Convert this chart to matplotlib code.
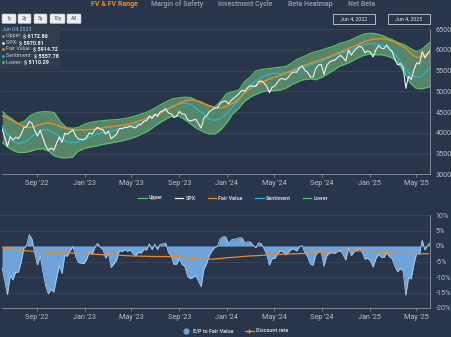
import matplotlib
matplotlib.use("Agg")
import matplotlib.pyplot as plt
import matplotlib.dates as mdates
from matplotlib.lines import Line2D
from matplotlib.patches import FancyBboxPatch, Rectangle
import numpy as np
import pandas as pd

# ---- data -------------------------------------------------------------
# weekly closes (Fridays) and the last session on Jun 4, 2025
week_dates = list(pd.date_range("2022-06-03", "2025-05-30", freq="W-FRI")) + [pd.Timestamp("2025-06-04")]

spx = [
    # 2022
    4108.54, 3900.86, 3674.84, 3911.74, 3825.33, 3899.38, 3863.16, 3961.63, 4130.29, 4145.19,
    4280.15, 4228.48, 4057.66, 3924.26, 4067.36, 3873.33, 3693.23, 3585.62, 3639.66, 3583.07,
    3752.75, 3901.06, 3770.55, 3992.93, 3965.34, 4026.12, 4071.70, 3934.38, 3852.36, 3844.82,
    3839.50,
    # 2023
    3895.08, 3999.09, 3972.61, 4070.56, 4136.48, 4090.46, 4079.09, 3970.04, 4045.64, 3861.59,
    3916.64, 3970.99, 4109.31, 4105.02, 4137.64, 4133.52, 4169.48, 4136.25, 4124.08, 4191.98,
    4205.45, 4282.37, 4298.86, 4409.59, 4348.33, 4450.38, 4398.95, 4505.42, 4536.34, 4582.23,
    4478.03, 4464.05, 4369.71, 4405.71, 4515.77, 4457.49, 4450.32, 4320.06, 4288.05, 4308.50,
    4327.78, 4224.16, 4117.37, 4358.34, 4415.24, 4514.02, 4559.34, 4594.63, 4604.37, 4719.19,
    4754.63, 4769.83,
    # 2024
    4697.24, 4783.83, 4839.81, 4890.97, 4958.61, 5026.61, 5005.57, 5088.80, 5137.08, 5123.69,
    5117.09, 5234.18, 5254.35, 5204.34, 5123.41, 4967.23, 5099.96, 5127.79, 5222.68, 5303.27,
    5304.72, 5277.51, 5346.99, 5431.60, 5464.62, 5460.48, 5567.19, 5615.35, 5505.00, 5459.10,
    5346.56, 5344.16, 5554.25, 5634.61, 5648.40, 5408.42, 5626.02, 5702.55, 5738.17, 5751.07,
    5815.03, 5864.67, 5808.12, 5728.80, 5995.54, 5870.62, 5969.34, 6032.38, 6090.27, 6051.09,
    5930.85, 5970.84,
    # 2025
    5942.47, 5827.04, 5996.66, 6101.24, 6040.53, 6025.99, 6114.63, 6013.13, 5954.50, 5770.20,
    5638.94, 5667.56, 5580.94, 5074.08, 5363.36, 5282.70, 5525.21, 5686.67, 5659.91, 5958.38,
    5802.82, 5911.69, 5970.81,
]

fair_value = [
    # 2022
    4415, 4390, 4360, 4325, 4295, 4260, 4220, 4185, 4160, 4140,
    4130, 4135, 4155, 4180, 4205, 4225, 4238, 4240, 4230, 4210,
    4190, 4165, 4140, 4120, 4100, 4088, 4078, 4072, 4070, 4070,
    4072,
    # 2023
    4076, 4080, 4086, 4092, 4100, 4110, 4122, 4133, 4142, 4150,
    4158, 4165, 4172, 4180, 4190, 4205, 4222, 4240, 4258, 4280,
    4305, 4330, 4355, 4380, 4402, 4425, 4450, 4478, 4508, 4540,
    4575, 4610, 4645, 4680, 4712, 4740, 4765, 4785, 4795, 4795,
    4785, 4765, 4740, 4710, 4680, 4652, 4630, 4615, 4608, 4610,
    4618, 4632,
    # 2024
    4660, 4695, 4735, 4780, 4830, 4900, 4960, 5020, 5070, 5110,
    5145, 5180, 5215, 5245, 5272, 5295, 5318, 5340, 5362, 5384,
    5410, 5435, 5462, 5490, 5520, 5550, 5580, 5605, 5630, 5652,
    5675, 5698, 5720, 5742, 5765, 5788, 5812, 5838, 5865, 5892,
    5920, 5948, 5975, 6002, 6030, 6060, 6088, 6115, 6142, 6170,
    6195, 6218,
    # 2025
    6238, 6252, 6262, 6268, 6268, 6262, 6250, 6232, 6208, 6180,
    6148, 6112, 6075, 6035, 5975, 5912, 5858, 5820, 5818, 5845,
    5878, 5900, 5914.72,
]

# band and sentiment on the 1st / 15th of each month
band_dates = ([pd.Timestamp("2022-06-04")]
              + list(pd.date_range("2022-06-15", "2025-06-01", freq="SMS"))
              + [pd.Timestamp("2025-06-04")])

upper = [
    4510, 4420, 4320, 4220, 4290, 4420, 4490, 4510, 4510, 4490,
    4250, 4130, 4110, 4130, 4210, 4250, 4280, 4295, 4305, 4315,
    4330, 4345, 4380, 4420, 4470, 4520, 4600, 4680, 4760, 4820,
    4845, 4860, 4850, 4780, 4700, 4660, 4620, 4750, 4950, 4990,
    5030, 5230, 5345, 5490, 5530, 5545, 5565, 5580, 5600, 5680,
    5780, 5830, 5910, 5950, 5995, 6040, 6085, 6150, 6190, 6240,
    6310, 6370, 6400, 6390, 6350, 6290, 6240, 6175, 6120, 6035,
    5955, 6010, 6150, 6172.86,
]

lower = [
    3770, 3680, 3580, 3530, 3530, 3560, 3610, 3620, 3560, 3450,
    3405, 3400, 3415, 3560, 3630, 3660, 3690, 3720, 3745, 3770,
    3800, 3830, 3870, 3920, 3990, 4060, 4170, 4260, 4350, 4410,
    4400, 4320, 4210, 4110, 4030, 3980, 3975, 4060, 4250, 4450,
    4600, 4760, 4860, 4930, 4990, 5015, 5015, 5030, 5080, 5160,
    5230, 5280, 5300, 5280, 5340, 5420, 5510, 5600, 5660, 5720,
    5800, 5860, 5900, 5880, 5880, 5850, 5800, 5680, 5440, 5200,
    5070, 5060, 5100, 5110.29,
]

sentiment = [
    4170, 3990, 3810, 3735, 3780, 3880, 4010, 4080, 4075, 4000,
    3880, 3790, 3765, 3780, 3840, 3910, 3970, 4005, 4025, 4055,
    4090, 4125, 4160, 4200, 4260, 4340, 4420, 4500, 4580, 4650,
    4705, 4720, 4680, 4580, 4460, 4340, 4300, 4340, 4470, 4620,
    4800, 5000, 5150, 5250, 5350, 5410, 5440, 5430, 5440, 5470,
    5530, 5575, 5630, 5680, 5735, 5800, 5860, 5905, 5950, 6000,
    6065, 6115, 6150, 6145, 6110, 6070, 5980, 5800, 5560, 5410,
    5340, 5360, 5530, 5557.78,
]

# monthly discount rate, percent
rate_dates = pd.date_range("2022-06-01", "2025-06-01", freq="MS")
discount_rate = [
    -0.5, -1.0, -1.5, -1.8, -2.0, -2.2, -2.3,
    -2.5, -2.7, -2.9, -3.0, -3.2, -3.3, -3.4, -3.4, -3.5, -4.0, -4.3, -4.2,
    -3.8, -3.5, -3.2, -3.0, -2.8, -2.6, -2.5, -2.3, -2.0, -1.8, -1.7, -1.6,
    -1.7, -2.0, -2.3, -2.5, -2.5, -2.5,
]

tabs = ["FV & FV Range", "Margin of Safety", "Investment Cycle", "Beta Heatmap", "Net Beta"]
ranges = ["1y", "2y", "5y", "10y", "All"]

# E/P gap to fair value, percent
gap = (np.array(spx) / np.array(fair_value) - 1) * 100

# ---- style --------------------------------------------------------------
BG = "#29354a"
GRID = "#3a4659"
TXT = "#b9c0ca"
SPINE = "#8c95a3"
GREEN = "#55c068"
BAND = "#5c8f6d"
ORANGE = "#ee8a26"
CYAN = "#22b6cc"
WHITE = "#f2f2f2"
BLUE = "#6fa4da"

plt.rcParams["font.family"] = ["Roboto", "DejaVu Sans"]

W, H = 451, 337
fig = plt.figure(figsize=(W / 100, H / 100), dpi=100, facecolor=BG)


def px_axes(x0, y0, x1, y1):
    return fig.add_axes([x0 / W, 1 - y1 / H, (x1 - x0) / W, (y1 - y0) / H])


def style(a):
    a.set_facecolor(BG)
    for s in ("top", "left"):
        a.spines[s].set_visible(False)
    for s in ("right", "bottom"):
        a.spines[s].set_color(SPINE)
        a.spines[s].set_linewidth(0.6)
    a.yaxis.tick_right()
    a.tick_params(axis="y", length=0, pad=4, labelsize=5.2, labelcolor=TXT)
    a.tick_params(axis="x", length=2, width=0.5, color=SPINE, pad=2, labelsize=5.2, labelcolor=TXT)
    a.grid(axis="y", color=GRID, linewidth=0.6)
    a.set_axisbelow(True)
    a.xaxis.set_major_locator(mdates.MonthLocator(bymonth=[1, 5, 9]))
    a.xaxis.set_major_formatter(mdates.DateFormatter("%b '%y"))
    a.set_xlim(pd.Timestamp("2022-06-03"), pd.Timestamp("2025-06-05"))


# ---- price panel --------------------------------------------------------
ax = px_axes(2, 29, 430, 174.5)
style(ax)
ax.fill_between(band_dates, lower, upper, color=BAND, alpha=0.9, linewidth=0)
ax.plot(band_dates, upper, color=GREEN, lw=0.9)
ax.plot(band_dates, lower, color=GREEN, lw=0.9)
ax.plot(band_dates, sentiment, color=CYAN, lw=1.0)
ax.plot(week_dates, fair_value, color=ORANGE, lw=1.0)
ax.plot(week_dates, spx, color=WHITE, lw=0.8)
ax.set_ylim(3000, 6500)
ax.set_yticks(range(3000, 6501, 500))

# ---- gap panel ----------------------------------------------------------
ax2 = px_axes(2, 215, 430, 308)
style(ax2)
ax2.fill_between(week_dates, gap, 0, color=BLUE, linewidth=0)
ax2.plot(week_dates, gap, color="#a9cdf2", lw=0.6)
ax2.plot(rate_dates, discount_rate, color=ORANGE, lw=0.9)
ax2.set_ylim(-20, 10)
ax2.set_yticks(range(-20, 11, 5))
ax2.yaxis.set_major_formatter(lambda v, p: f"{v:.0f}%")

# ---- legends ------------------------------------------------------------
leg_kw = dict(frameon=False, labelcolor="#c8ced6", handlelength=1.6, handletextpad=0.4,
              columnspacing=2.2, loc="center", prop={"weight": "bold", "size": 3.9})
h_top = [Line2D([], [], color=GREEN, lw=0.9), Line2D([], [], color=WHITE, lw=0.9),
         Line2D([], [], color=ORANGE, lw=0.9), Line2D([], [], color=CYAN, lw=0.9),
         Line2D([], [], color=GREEN, lw=0.9)]
fig.legend(h_top, ["Upper", "SPX", "Fair Value", "Sentiment", "Lower"], ncol=5,
           bbox_to_anchor=(233 / W, 1 - 198 / H), **leg_kw)
h_bot = [Line2D([], [], color=BLUE, marker="o", ls="", markersize=3.5),
         Line2D([], [], color=ORANGE, lw=0.9, marker="+", markersize=3)]
fig.legend(h_bot, ["E/P to Fair Value", "Discount rate"], ncol=2,
           bbox_to_anchor=(235 / W, 1 - 331 / H), **leg_kw)

# ---- overlay in pixel coordinates (header and tooltip) ------------------
ov = fig.add_axes([0, 0, 1, 1], zorder=10)
ov.set_xlim(0, W)
ov.set_ylim(H, 0)
ov.axis("off")

tab_x = [114, 177, 245.5, 310.5, 362]
for name, x in zip(tabs, tab_x):
    ov.text(x, 4, name, ha="center", va="center", fontsize=5, fontweight="bold",
            color=ORANGE if name == tabs[0] else "#8b94a1")

btn_x = [(2, 16), (18, 31), (34, 47), (50, 65), (67, 81)]
for label, (x0, x1) in zip(ranges, btn_x):
    ov.add_patch(FancyBboxPatch((x0, 14), x1 - x0, 9.5,
                                boxstyle="round,pad=0,rounding_size=1",
                                facecolor="#eceef1", edgecolor="#b9bec6", linewidth=0.4))
    ov.text((x0 + x1) / 2, 18.9, label, ha="center", va="center", fontsize=3.8,
            color="#4a4f57")

for label, (x0, x1) in zip(["Jun 4, 2022", "Jun 4, 2025"], [(333, 375), (388, 430)]):
    ov.add_patch(Rectangle((x0, 14), x1 - x0, 10, facecolor=BG, edgecolor="#c9ced6",
                           linewidth=0.6))
    ov.text((x0 + x1) / 2, 19, label, ha="center", va="center", fontsize=3.8,
            color="#e6e9ee")

ov.add_patch(Rectangle((0, 26), 60, 43, facecolor="#323e50", edgecolor="none", alpha=0.95))
ov.text(1.5, 29.5, "Jun 04.2025", ha="left", va="center", fontsize=3.9, color="#8fb4ea")
rows = [("Upper", upper[-1], GREEN), ("SPX", spx[-1], WHITE),
        ("Fair Value", fair_value[-1], ORANGE), ("Sentiment", sentiment[-1], CYAN),
        ("Lower", lower[-1], GREEN)]
renderer = fig.canvas.get_renderer()
inv = ov.transData.inverted()
for i, (name, val, col) in enumerate(rows):
    y = 36 + i * 6.5
    ov.scatter([3.3], [y], s=4, color=col, linewidths=0)
    t = ov.text(6.5, y, f"{name}: ", ha="left", va="center", fontsize=3.9, color="#c3c9d2")
    x_end = inv.transform(t.get_window_extent(renderer).get_points())[1, 0]
    ov.text(x_end, y, f"$ {val:.2f}", ha="left", va="center", fontsize=3.9,
            fontweight="bold", color="#eef1f5")

fig.savefig("out.png", dpi=100, facecolor=BG)
